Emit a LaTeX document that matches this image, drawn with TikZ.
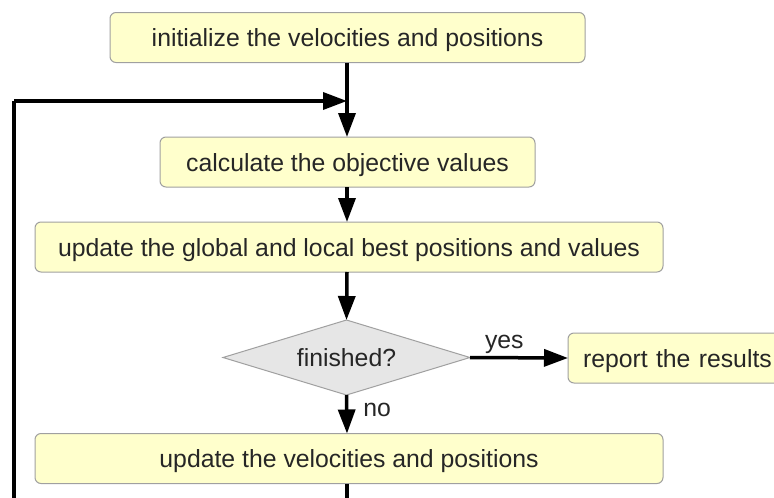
\documentclass[tikz,border=0pt]{standalone}
\usepackage{fontspec}
\setmainfont{Liberation Sans}
\usetikzlibrary{shapes.geometric,arrows.meta}
\definecolor{boxfill}{HTML}{FFFFCC}
\definecolor{boxline}{HTML}{A0A0A0}
\definecolor{diafill}{HTML}{E6E6E6}
\definecolor{txt}{HTML}{262626}
\begin{document}
\begin{tikzpicture}[x=1pt,y=-1pt,
  procbox/.style={draw=boxline, line width=1pt, fill=boxfill, rounded corners=6pt,
    minimum height=50pt, inner sep=0pt, outer sep=0pt, text height=18pt, text depth=0pt,
    text=txt, font=\fontsize{24.8}{28}\selectfont},
  decbox/.style={diamond, draw=boxline, line width=1pt, fill=diafill, minimum width=247pt,
    minimum height=75pt, aspect=3.3, inner sep=0pt, outer sep=0pt, text height=18pt, text depth=0pt,
    text=txt, font=\fontsize{24.8}{28}\selectfont},
  flow/.style={line width=3.5pt, -{Triangle[length=24pt,width=17pt]}},
  plainline/.style={line width=3.5pt},
  lbl/.style={text=txt, font=\fontsize{24.8}{28}\selectfont, inner sep=0pt, text height=13pt, text depth=0pt}]
\useasboundingbox (0,0) rectangle (774,498);
\fill[white] (0,0) rectangle (774,498);
\clip (0,0) rectangle (774,498);
\node[procbox, minimum width=475pt] (init) at (347.5,37.5) {initialize the velocities and positions};
\node[procbox, minimum width=375pt] (calc) at (347.5,162) {calculate the objective values};
\node[procbox, minimum width=628pt] (best) at (349,247) {update the global and local best positions and values};
\node[decbox] (fin) at (346.5,357.5) {finished?};
\node[procbox, anchor=west, minimum width=230pt, align=left, text width=200pt] (rep) at (568,358) {report the results};
\node[procbox, minimum width=628pt] (upd) at (349,458.5) {update the velocities and positions};
\coordinate (merge) at (347,101);
\coordinate (lb) at (347,530);
\coordinate (ll) at (14,530);
\coordinate (lt) at (14,101);
\draw[flow] (init.south -| merge) -- (calc.north -| merge);
\draw[flow] (calc.south -| merge) -- (best.north -| merge);
\draw[flow] (best.south -| merge) -- (fin.north);
\draw[flow] (fin.east) -- node[lbl, above=7.5pt, pos=0.35] {yes} (rep.west);
\draw[flow] (fin.south) -- node[lbl, right=15pt, pos=0.4] {no} (upd.north -| merge);
\draw[plainline] (upd.south -| merge) -- (lb) -- (ll) -- (lt);
\draw[flow] (lt) -- (merge);
\end{tikzpicture}
\end{document}
